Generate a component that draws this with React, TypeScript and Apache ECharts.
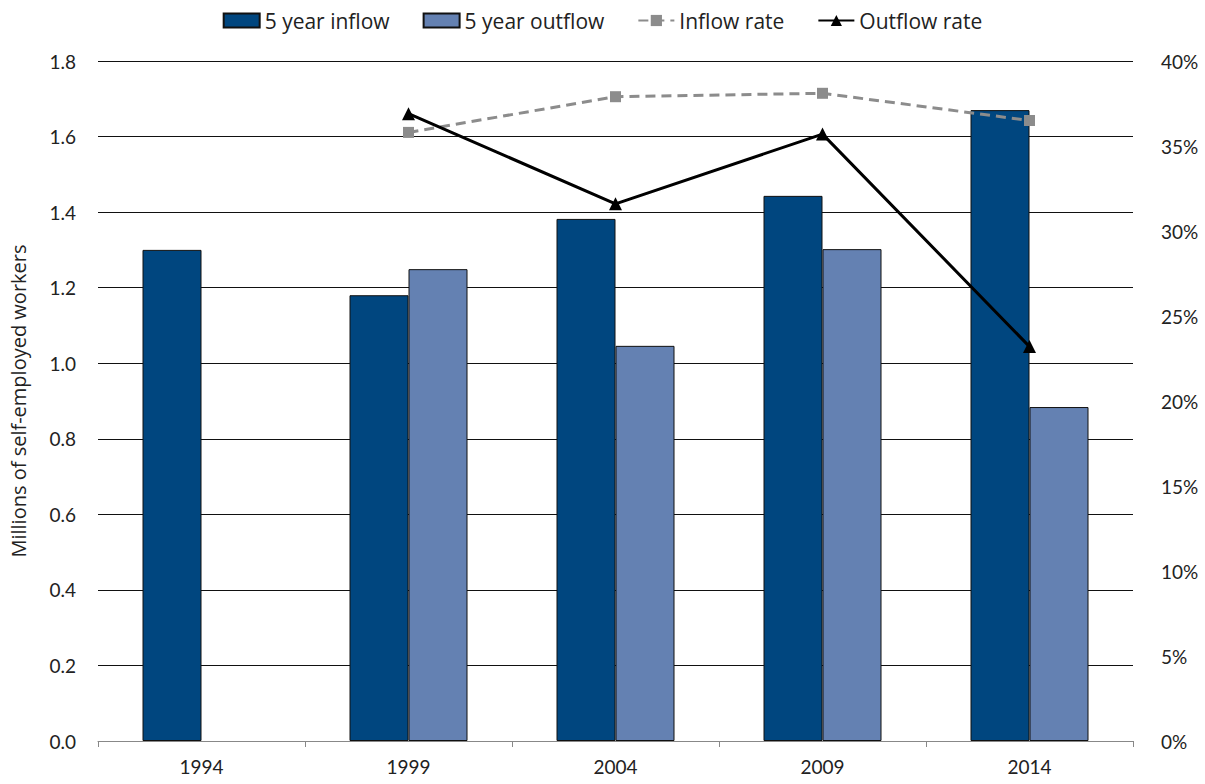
import React, { useEffect, useRef } from "react";
import * as echarts from "echarts";

const categories = ["1994", "1999", "2004", "2009", "2014"];
const inflow = [1.3, 1.18, 1.382, 1.443, 1.67];
const outflow = [null, 1.249, 1.046, 1.302, 0.884];
const inflowRate = [null, 35.8, 37.9, 38.1, 36.5];
const outflowRate = [null, 36.9, 31.6, 35.7, 23.2];

const FONT = "Lato, 'Open Sans', sans-serif";
const WIDE = "'Open Sans', Lato, sans-serif";

export default function App() {
  const ref = useRef<HTMLDivElement>(null);
  useEffect(() => {
    const chart = echarts.init(ref.current!, null, { renderer: "svg" });
    chart.setOption({
      animation: false,
      textStyle: { fontFamily: FONT },
      legend: {
        top: 5,
        left: "center",
        itemWidth: 36,
        itemHeight: 14,
        itemGap: 33,
        textStyle: { fontSize: 21, color: "#222", fontFamily: WIDE },
        data: [
          { name: "5 year inflow", icon: "rect" },
          { name: "5 year outflow", icon: "rect" },
          { name: "Inflow rate" },
          { name: "Outflow rate" },
        ],
      },
      grid: { left: 90, right: 72, top: 61, bottom: 43, containLabel: false },
      xAxis: {
        type: "category",
        data: categories,
        boundaryGap: true,
        axisLine: { lineStyle: { color: "#888", width: 1 } },
        axisTick: { show: true, length: 6, lineStyle: { color: "#888" } },
        axisLabel: { fontSize: 19, color: "#222", margin: 16, fontFamily: FONT },
      },
      yAxis: [
        {
          type: "value",
          min: 0,
          max: 1.8,
          interval: 0.2,
          name: "Millions of self-employed workers",
          nameLocation: "middle",
          nameRotate: 90,
          nameGap: 70,
          nameTextStyle: { fontSize: 20, color: "#222", fontFamily: WIDE },
          axisLine: { show: false },
          axisTick: { show: false },
          splitLine: { show: true, lineStyle: { color: "#111", width: 1 } },
          axisLabel: {
            fontSize: 19,
            color: "#222",
            margin: 22,
            fontFamily: FONT,
            formatter: (v: number) => v.toFixed(1),
          },
        },
        {
          type: "value",
          min: 0,
          max: 40,
          interval: 5,
          axisLine: { show: false },
          axisTick: { show: false },
          splitLine: { show: false },
          axisLabel: {
            fontSize: 19,
            color: "#222",
            margin: 28,
            fontFamily: FONT,
            formatter: "{value}%",
          },
        },
      ],
      series: [
        {
          name: "5 year inflow",
          type: "bar",
          data: inflow,
          barWidth: 59,
          barGap: "0%",
          itemStyle: { color: "#00467F", borderColor: "#111", borderWidth: 1 },
        },
        {
          name: "5 year outflow",
          type: "bar",
          data: outflow,
          barWidth: 59,
          barGap: "0%",
          itemStyle: { color: "#6481B2", borderColor: "#111", borderWidth: 1 },
        },
        {
          name: "Inflow rate",
          type: "line",
          yAxisIndex: 1,
          data: inflowRate,
          symbol: "rect",
          symbolSize: 11,
          lineStyle: { color: "#8C8C8C", width: 3, type: [10, 6] },
          itemStyle: { color: "#8C8C8C" },
          z: 3,
        },
        {
          name: "Outflow rate",
          type: "line",
          yAxisIndex: 1,
          data: outflowRate,
          symbol: "triangle",
          symbolSize: 13,
          lineStyle: { color: "#000", width: 3 },
          itemStyle: { color: "#000" },
          z: 4,
        },
      ],
    });
    return () => chart.dispose();
  }, []);
  return (
    <div
      ref={ref}
      style={{ position: "fixed", left: 0, top: 0, width: 1205, height: 784, background: "#fff" }}
    />
  );
}
